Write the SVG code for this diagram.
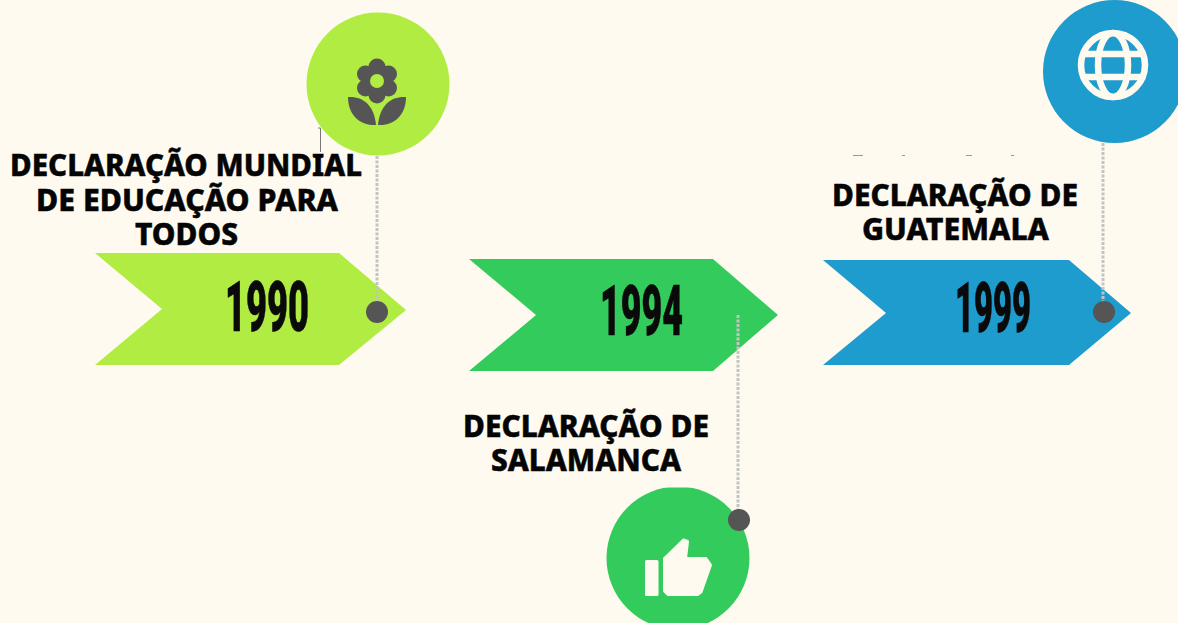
<svg xmlns="http://www.w3.org/2000/svg" width="1178" height="623" viewBox="0 0 1178 623">
<style>
.t{font-family:"Noto Sans","Liberation Sans",sans-serif;font-weight:800;font-size:31px;fill:#050505;stroke:#050505;stroke-width:.5}
.y{font-family:Roboto,"Liberation Sans",sans-serif;font-weight:900;font-size:71px;fill:#0a0a0a;stroke:#0a0a0a;stroke-width:.6}
.dot{fill:#555}
.c{fill:none;stroke:#c4c4c4;stroke-width:3;stroke-dasharray:3 1.5}
.ic{fill:#fffaf0;stroke:#fffaf0;stroke-width:3;stroke-linejoin:round}
</style>
<defs><clipPath id="thumbClip"><path d="M600 487.500H698V486H760V623H600Z"/></clipPath></defs>
<rect width="1178" height="623" fill="#fffaf0"/>
<g id="node-1990">
<circle cx="378" cy="84" r="71.500" fill="#b0ec42"/>
<g fill="#555">
<circle cx="377" cy="67" r="8.500"/><circle cx="377" cy="95" r="8.500"/><circle cx="365.500" cy="74" r="8.500"/><circle cx="388.500" cy="74" r="8.500"/><circle cx="365.500" cy="88" r="8.500"/><circle cx="388.500" cy="88" r="8.500"/><circle cx="377" cy="81" r="13"/>
<path d="M348 97C362 96 374 104 376 125C360 126 348 115 348 97Z"/>
<path d="M406 97C392 96 380 104 378 125C394 126 406 115 406 97Z"/>
</g>
<circle cx="377" cy="81" r="7" fill="#b0ec42"/>
<path d="M95 253H339L406 310L339 365H95L162 309Z" fill="#b0ec42"/>
<text class="y" x="225" y="331" textLength="84" lengthAdjust="spacingAndGlyphs">1990</text>
</g>
<g id="node-1994">
<circle cx="678" cy="558" r="71.500" fill="#33cc5c" clip-path="url(#thumbClip)"/>
<rect x="646.500" y="561.500" width="10.500" height="33" class="ic"/>
<path class="ic" d="M664.500 558.500L683.500 540L687.500 541.500L685.500 558.500H706L710.500 565L701 592L697.500 594.500H668L664.500 591Z"/>
<path d="M469 259H713L778 315L713 371H469L536 315Z" fill="#33cc5c"/>
<text class="y" x="600" y="335" textLength="83" lengthAdjust="spacingAndGlyphs">1994</text>
</g>
<g id="node-1999">
<circle cx="1114.500" cy="71.500" r="71.500" fill="#1f9cce"/>
<g fill="none" stroke="#fffaf0" stroke-width="6.500">
<circle cx="1113" cy="65" r="32"/>
<ellipse cx="1113" cy="65" rx="15" ry="32"/>
<path d="M1083 54H1143M1083 77H1143"/>
</g>
<path d="M823 260H1069L1131 313L1069 365H823L886 313Z" fill="#1f9cce"/>
<text class="y" x="955" y="332" textLength="76" lengthAdjust="spacingAndGlyphs">1999</text>
</g>
<g id="connectors">
<path class="c" d="M377 156V302"/>
<path class="c" d="M738 315V510"/>
<path class="c" d="M1103 143V302"/>
<path d="M318 128H320.500V152" fill="none" stroke="#777" stroke-width="1"/>
<circle class="dot" cx="377" cy="312" r="11"/>
<circle class="dot" cx="739" cy="520" r="11"/>
<circle class="dot" cx="1104" cy="312" r="11"/>
</g>
<g id="labels">
<text class="t" x="10" y="176" textLength="352" lengthAdjust="spacingAndGlyphs">DECLARAÇÃO MUNDIAL</text>
<text class="t" x="36" y="211" textLength="302" lengthAdjust="spacingAndGlyphs">DE EDUCAÇÃO PARA</text>
<text class="t" x="135" y="245" textLength="103" lengthAdjust="spacingAndGlyphs">TODOS</text>
<text class="t" x="832" y="206" textLength="246" lengthAdjust="spacingAndGlyphs">DECLARAÇÃO DE</text>
<text class="t" x="862" y="240" textLength="187" lengthAdjust="spacingAndGlyphs">GUATEMALA</text>
<text class="t" x="463" y="437" textLength="246" lengthAdjust="spacingAndGlyphs">DECLARAÇÃO DE</text>
<text class="t" x="491" y="471" textLength="190" lengthAdjust="spacingAndGlyphs">SALAMANCA</text>
<path d="M853 155.500H863M902 155.500H905M966 155.500H972M1011 155.500H1014" stroke="#999" stroke-width="1" fill="none"/>
</g>
</svg>
